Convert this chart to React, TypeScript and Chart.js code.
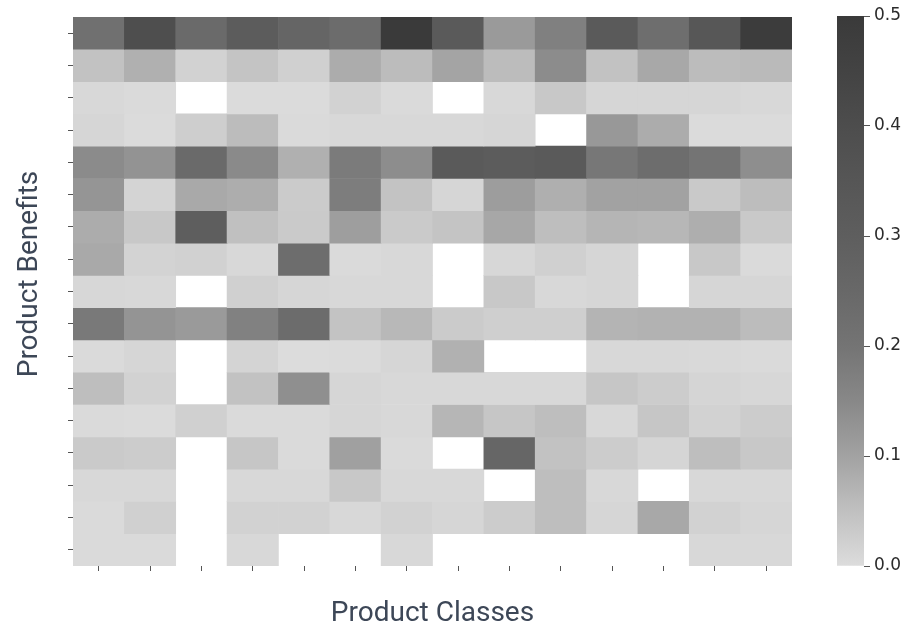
import React, { useEffect, useRef } from 'react';
import { Chart, registerables } from 'chart.js';

Chart.register(...registerables);

// ---- Data -------------------------------------------------------------
const productClasses = [
  'Class 1', 'Class 2', 'Class 3', 'Class 4', 'Class 5', 'Class 6', 'Class 7',
  'Class 8', 'Class 9', 'Class 10', 'Class 11', 'Class 12', 'Class 13', 'Class 14',
];

const benefitNames = [
  'Benefit 1', 'Benefit 2', 'Benefit 3', 'Benefit 4', 'Benefit 5', 'Benefit 6',
  'Benefit 7', 'Benefit 8', 'Benefit 9', 'Benefit 10', 'Benefit 11', 'Benefit 12',
  'Benefit 13', 'Benefit 14', 'Benefit 15', 'Benefit 16', 'Benefit 17',
];

// null = no value (white cell)
const benefit01 = [0.217, 0.394, 0.242, 0.31, 0.265, 0.233, 0.5, 0.325, 0.115, 0.17, 0.325, 0.225, 0.344, 0.489];
const benefit02 = [0.046, 0.077, 0.018, 0.043, 0.021, 0.083, 0.057, 0.097, 0.057, 0.142, 0.046, 0.09, 0.057, 0.06];
const benefit03 = [0.007, 0.004, null, 0.001, 0.002, 0.018, 0.004, null, 0.007, 0.036, 0.011, 0.011, 0.011, 0.007];
const benefit04 = [0.011, 0.001, 0.025, 0.057, 0.004, 0.007, 0.007, 0.007, 0.011, null, 0.119, 0.083, 0.001, 0.001];
const benefit05 = [0.144, 0.129, 0.242, 0.146, 0.077, 0.183, 0.14, 0.325, 0.313, 0.325, 0.193, 0.229, 0.2, 0.138];
const benefit06 = [0.125, 0.014, 0.088, 0.082, 0.03, 0.178, 0.045, 0.011, 0.11, 0.079, 0.1, 0.1, 0.034, 0.055];
const benefit07 = [0.083, 0.036, 0.3, 0.05, 0.032, 0.108, 0.032, 0.043, 0.092, 0.053, 0.068, 0.065, 0.08, 0.034];
const benefit08 = [0.088, 0.016, 0.02, 0.007, 0.229, 0.004, 0.007, null, 0.009, 0.021, 0.011, null, 0.036, 0.004];
const benefit09 = [0.009, 0.007, null, 0.021, 0.011, 0.007, 0.007, null, 0.036, 0.007, 0.011, null, 0.011, 0.011];
const benefit10 = [0.188, 0.127, 0.115, 0.168, 0.233, 0.045, 0.063, 0.03, 0.023, 0.023, 0.07, 0.073, 0.073, 0.057];
const benefit11 = [0.004, 0.011, null, 0.014, 0.0, 0.001, 0.011, 0.075, null, null, 0.007, 0.007, 0.005, 0.004];
const benefit12 = [0.053, 0.018, null, 0.046, 0.137, 0.011, 0.007, 0.007, 0.007, 0.007, 0.039, 0.029, 0.013, 0.009];
const benefit13 = [0.004, 0.001, 0.021, 0.004, 0.004, 0.011, 0.007, 0.067, 0.039, 0.053, 0.007, 0.039, 0.018, 0.029];
const benefit14 = [0.032, 0.029, null, 0.039, 0.004, 0.104, 0.004, null, 0.26, 0.046, 0.029, 0.013, 0.053, 0.036];
const benefit15 = [0.007, 0.007, null, 0.007, 0.007, 0.036, 0.007, 0.007, null, 0.053, 0.007, null, 0.007, 0.007];
const benefit16 = [0.004, 0.021, null, 0.018, 0.018, 0.007, 0.018, 0.011, 0.029, 0.053, 0.011, 0.09, 0.018, 0.011];
const benefit17 = [0.004, 0.004, null, 0.007, null, null, 0.007, null, null, null, null, null, 0.007, 0.007];

const benefitRows = [
  benefit01, benefit02, benefit03, benefit04, benefit05, benefit06, benefit07, benefit08, benefit09,
  benefit10, benefit11, benefit12, benefit13, benefit14, benefit15, benefit16, benefit17,
];

const colorbarTicks = [0, 0.1, 0.2, 0.3, 0.4, 0.5];
const colorMin = 0;
const colorMax = 0.5;

const xTitle = 'Product Classes';
const yTitle = 'Product Benefits';

// ---- Colour map (grey ramp) --------------------------------------------
const CMAP_STOPS = [0, 0.05, 0.1, 0.15, 0.2, 0.25, 0.3, 0.35, 0.4, 0.45, 0.5];
const CMAP_GRAY = [220, 192, 162, 136, 116, 104, 94, 86, 77, 67, 58];

function grayOf(g: number) {
  const v = Math.round(g);
  return `rgb(${v},${v},${v})`;
}

function colorFor(value: number) {
  const v = Math.max(colorMin, Math.min(colorMax, value));
  for (let i = 0; i < CMAP_STOPS.length - 1; i++) {
    const a = CMAP_STOPS[i];
    const b = CMAP_STOPS[i + 1];
    if (v <= b) {
      const t = (v - a) / (b - a);
      return grayOf(CMAP_GRAY[i] + (CMAP_GRAY[i + 1] - CMAP_GRAY[i]) * t);
    }
  }
  return grayOf(CMAP_GRAY[CMAP_GRAY.length - 1]);
}

const TITLE_COLOR = '#3d4757';
const TICK_COLOR = '#555555';

const axisTitlePlugin = {
  id: 'axisTitles',
  afterDraw(chart: any) {
    const { ctx, chartArea } = chart;
    ctx.save();
    ctx.fillStyle = TITLE_COLOR;
    ctx.font = '28px Roboto';
    ctx.textAlign = 'center';
    ctx.textBaseline = 'alphabetic';
    ctx.fillText(xTitle, (chartArea.left + chartArea.right) / 2, chartArea.bottom + 55);
    ctx.translate(37, chartArea.top + 257);
    ctx.rotate(-Math.PI / 2);
    ctx.fillText(yTitle, 0, 0);
    ctx.restore();
  },
};

export default function App() {
  const heatRef = useRef<HTMLCanvasElement | null>(null);
  const barRef = useRef<HTMLCanvasElement | null>(null);

  useEffect(() => {
    if (!heatRef.current || !barRef.current) return;

    const datasets = benefitRows.map((row, r) => ({
      label: benefitNames[r],
      data: row.map((v) => (v == null ? null : [r, r + 1])),
      backgroundColor: row.map((v) => (v == null ? 'rgba(0,0,0,0)' : colorFor(v))),
      borderWidth: 0,
      barPercentage: 1,
      categoryPercentage: 1,
      grouped: false,
    }));

    const heat = new Chart(heatRef.current, {
      type: 'bar',
      data: { labels: productClasses, datasets: datasets as any },
      options: {
        responsive: false,
        animation: false,
        devicePixelRatio: 1,
        layout: { padding: { left: 0, top: 17, right: 109, bottom: 0 } },
        plugins: { legend: { display: false }, tooltip: { enabled: false } },
        scales: {
          x: {
            type: 'category',
            grid: {
              display: true,
              drawOnChartArea: false,
              offset: false,
              tickLength: 5,
              color: TICK_COLOR,
              tickColor: TICK_COLOR,
              tickWidth: 1,
            },
            border: { display: false },
            ticks: { autoSkip: false, callback: () => '', padding: 0, maxRotation: 0 },
            afterFit: (s: any) => {
              s.height = 61;
            },
          },
          y: {
            type: 'linear',
            reverse: true,
            min: 0,
            max: benefitNames.length,
            afterBuildTicks: (s: any) => {
              s.ticks = benefitNames.map((_, i) => ({ value: i + 0.5 }));
            },
            grid: {
              display: true,
              drawOnChartArea: false,
              tickLength: 5,
              color: TICK_COLOR,
              tickColor: TICK_COLOR,
              tickWidth: 1,
            },
            border: { display: false },
            ticks: { callback: () => '', padding: 0 },
            afterFit: (s: any) => {
              s.width = 73;
            },
          },
        },
      },
      plugins: [axisTitlePlugin],
    } as any);

    const colorbar = new Chart(barRef.current, {
      type: 'bar',
      data: {
        labels: ['scale'],
        datasets: [
          {
            data: [[colorMin, colorMax]],
            backgroundColor: (c: any) => {
              const area = c.chart.chartArea;
              if (!area) return '#999';
              const g = c.chart.ctx.createLinearGradient(0, area.bottom, 0, area.top);
              CMAP_STOPS.forEach((s, i) => g.addColorStop((s - colorMin) / (colorMax - colorMin), grayOf(CMAP_GRAY[i])));
              return g;
            },
            borderWidth: 0,
            barPercentage: 1,
            categoryPercentage: 1,
          },
        ],
      },
      options: {
        responsive: false,
        animation: false,
        devicePixelRatio: 1,
        layout: { padding: { left: 37, top: 16, right: 0, bottom: 61 } },
        plugins: { legend: { display: false }, tooltip: { enabled: false } },
        scales: {
          x: { display: false },
          y: {
            position: 'right',
            min: colorMin,
            max: colorMax,
            afterBuildTicks: (s: any) => {
              s.ticks = colorbarTicks.map((v) => ({ value: v }));
            },
            ticks: {
              callback: (v: any) => Number(v).toFixed(1),
              font: { family: 'DejaVu Sans', size: 17 },
              color: '#2b2b2b',
              padding: 4,
            },
            grid: {
              display: true,
              drawOnChartArea: false,
              tickLength: 6,
              color: TICK_COLOR,
              tickColor: TICK_COLOR,
            },
            border: { display: false },
            afterFit: (s: any) => {
              s.width = 37;
            },
          },
        },
      },
    } as any);

    return () => {
      heat.destroy();
      colorbar.destroy();
    };
  }, []);

  return (
    <div style={{ position: 'fixed', left: 0, top: 0, width: 901, height: 627, background: '#ffffff', overflow: 'hidden' }}>
      <canvas ref={heatRef} width={901} height={627} style={{ position: 'absolute', left: 0, top: 0 }} />
      <canvas ref={barRef} width={101} height={627} style={{ position: 'absolute', left: 800, top: 0 }} />
    </div>
  );
}
